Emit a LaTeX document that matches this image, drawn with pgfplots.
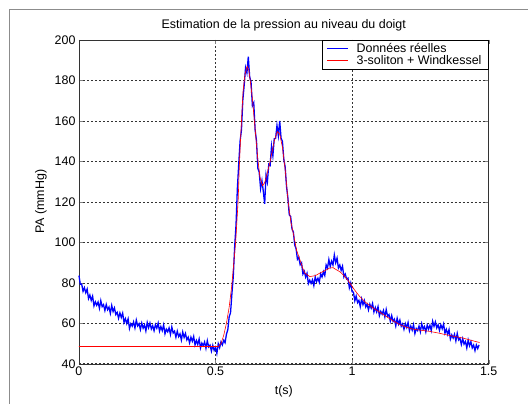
\documentclass[border=0pt]{standalone}
\usepackage{pgfplots}
\pgfplotsset{compat=1.18}
\usepackage{fontspec}
\setmainfont{Liberation Sans}

% measured data (pressure at the finger)
\pgfplotstableread{
t P
0.000 83.6
0.005 79.3
0.010 79.4
0.015 75.8
0.020 77.6
0.025 75.1
0.030 76.9
0.035 72.2
0.040 74.0
0.045 71.3
0.050 73.4
0.055 68.6
0.060 70.6
0.065 68.9
0.070 70.5
0.075 67.4
0.080 71.2
0.085 68.2
0.090 69.2
0.095 66.3
0.100 69.3
0.105 66.7
0.110 68.0
0.115 64.9
0.120 68.8
0.125 65.8
0.130 67.6
0.135 64.3
0.140 65.4
0.145 62.5
0.150 65.1
0.155 62.9
0.160 65.0
0.165 60.4
0.170 62.3
0.175 59.9
0.180 62.2
0.185 57.4
0.190 59.8
0.195 58.6
0.200 60.7
0.205 57.7
0.210 61.6
0.215 58.7
0.220 59.8
0.225 56.9
0.230 60.1
0.235 57.6
0.240 59.2
0.245 56.2
0.250 60.4
0.255 57.8
0.260 60.1
0.265 57.2
0.270 58.8
0.275 56.3
0.280 59.3
0.285 57.6
0.290 60.1
0.295 56.1
0.300 58.4
0.305 56.4
0.310 59.2
0.315 54.8
0.320 57.1
0.325 55.8
0.330 57.7
0.335 54.5
0.340 58.2
0.345 55.2
0.350 56.1
0.355 53.1
0.360 56.1
0.365 53.4
0.370 54.8
0.375 51.7
0.380 55.7
0.385 53.0
0.390 55.0
0.395 51.8
0.400 53.1
0.405 50.3
0.410 53.1
0.415 51.1
0.420 53.5
0.425 49.3
0.430 51.5
0.435 49.5
0.440 52.2
0.445 47.8
0.450 50.2
0.455 48.9
0.460 50.8
0.465 47.6
0.470 51.4
0.475 48.3
0.480 49.2
0.485 46.2
0.490 49.1
0.495 46.6
0.500 48.1
0.505 45.1
0.510 49.9
0.515 47.9
0.520 50.8
0.525 49.3
0.530 51.6
0.535 50.4
0.540 54.6
0.545 56.8
0.550 63.2
0.555 65.2
0.560 74.5
0.565 83.0
0.570 97.6
0.575 108.4
0.580 126.7
0.585 138.7
0.590 150.1
0.595 155.5
0.600 170.3
0.605 177.7
0.610 186.3
0.615 183.7
0.620 191.8
0.625 181.8
0.630 179.3
0.635 167.5
0.640 169.0
0.645 155.6
0.650 150.2
0.655 136.6
0.660 134.6
0.665 126.6
0.670 130.5
0.675 125.2
0.680 119.0
0.685 133.4
0.690 129.9
0.695 138.6
0.700 138.0
0.705 147.6
0.710 142.7
0.715 151.2
0.720 151.4
0.725 157.8
0.730 152.7
0.735 160.0
0.740 151.5
0.745 149.9
0.750 141.1
0.755 137.2
0.760 127.6
0.765 121.9
0.770 113.6
0.775 112.8
0.780 106.6
0.785 105.1
0.790 98.7
0.795 96.8
0.800 91.6
0.805 92.6
0.810 88.9
0.815 89.9
0.820 84.3
0.825 85.7
0.830 82.8
0.835 84.7
0.840 79.6
0.845 81.3
0.850 79.7
0.855 81.5
0.860 78.6
0.865 82.9
0.870 80.6
0.875 82.3
0.880 80.3
0.885 84.4
0.890 82.9
0.895 85.5
0.900 83.6
0.905 88.8
0.910 87.3
0.915 91.5
0.920 88.1
0.925 90.7
0.930 88.8
0.935 93.8
0.940 89.9
0.945 92.2
0.950 87.3
0.955 88.8
0.960 86.2
0.965 88.2
0.970 82.9
0.975 84.3
0.980 81.9
0.985 82.3
0.990 77.5
0.995 79.9
1.000 75.6
1.005 75.4
1.010 71.1
1.015 73.5
1.020 70.2
1.025 71.3
1.030 68.2
1.035 72.0
1.040 69.2
1.045 71.2
1.050 68.1
1.055 69.4
1.060 66.6
1.065 69.4
1.070 67.5
1.075 69.8
1.080 65.6
1.085 67.8
1.090 65.6
1.095 68.2
1.100 63.7
1.105 65.9
1.110 64.5
1.115 66.4
1.120 63.1
1.125 66.8
1.130 63.5
1.135 64.3
1.140 61.0
1.145 63.8
1.150 60.9
1.155 62.0
1.160 58.7
1.165 62.5
1.170 59.6
1.175 61.6
1.180 58.5
1.185 59.7
1.190 57.0
1.195 59.8
1.200 57.9
1.205 60.4
1.210 56.3
1.215 58.6
1.220 56.6
1.225 59.3
1.230 54.9
1.235 57.4
1.240 56.4
1.245 58.6
1.250 55.8
1.255 59.8
1.260 57.1
1.265 58.4
1.270 55.7
1.275 59.1
1.280 57.1
1.285 59.0
1.290 56.4
1.295 61.0
1.300 58.5
1.305 60.7
1.310 57.7
1.315 59.2
1.320 56.5
1.325 59.2
1.330 57.3
1.335 59.6
1.340 55.1
1.345 57.0
1.350 54.5
1.355 56.9
1.360 52.2
1.365 54.3
1.370 52.7
1.375 54.6
1.380 51.3
1.385 55.0
1.390 51.8
1.395 52.6
1.400 49.5
1.405 52.4
1.410 49.7
1.415 51.0
1.420 47.8
1.425 51.7
1.430 48.9
1.435 50.9
1.440 47.8
1.445 49.2
1.450 46.5
1.455 49.3
1.460 47.5
1.465 49.3
}\mesures

% 3-soliton + Windkessel model
\pgfplotstableread{
t P
0.000 48.5
0.510 48.5
0.520 50.0
0.530 54.0
0.540 60.0
0.550 68.0
0.559 78.0
0.567 90.0
0.574 100.5
0.583 121.0
0.587 137.0
0.592 152.0
0.601 175.0
0.608 183.0
0.616 187.0
0.622 185.0
0.628 179.0
0.635 171.0
0.645 156.0
0.655 141.0
0.663 132.0
0.672 128.0
0.680 129.5
0.690 134.5
0.700 140.0
0.715 150.0
0.726 154.7
0.735 153.5
0.745 147.0
0.755 136.0
0.766 120.0
0.776 110.0
0.787 103.0
0.797 96.0
0.809 91.4
0.820 87.0
0.827 84.8
0.845 83.1
0.865 83.5
0.882 84.8
0.900 86.0
0.918 87.3
0.930 87.5
0.943 86.4
0.955 85.5
0.967 84.0
0.980 82.0
0.992 79.9
1.010 76.3
1.028 73.2
1.050 70.3
1.077 67.5
1.100 65.6
1.126 63.3
1.150 61.2
1.175 59.3
1.200 58.0
1.223 57.1
1.250 56.6
1.284 56.0
1.315 55.2
1.345 54.3
1.375 53.5
1.406 52.7
1.435 51.6
1.467 50.5
}\modele

\newcommand\figfont{\fontsize{12.5}{14.5}\selectfont}

\begin{document}
\begin{tikzpicture}
\begin{axis}[
  scale only axis, width=410bp, height=324bp,
  xmin=0, xmax=1.5, ymin=40, ymax=200,
  xtick={0,0.5,1,1.5}, ytick={40,60,...,200},
  tick pos=both, tick align=inside, major tick length=4bp,
  axis line style={black!80},
  grid=major,
  major grid style={black!80, dash pattern=on 2bp off 2bp, line width=0.5bp},
  tick label style={font=\figfont},
  label style={font=\figfont},
  /pgf/number format/assume math mode=true,
  xlabel={t(s)},
  xlabel style={at={(axis description cs:0.5,-0.0864)}, anchor=center},
  ylabel={PA (mmHg)},
  ylabel style={at={(axis description cs:-0.0927,0.5)}, anchor=center},
  clip=false,
  legend cell align=left,
  legend style={at={(1,1)}, anchor=north east, draw=black, fill=white,
    inner xsep=5bp, inner ysep=1bp, row sep=-2.5bp,
    font=\figfont,
    /tikz/every odd column/.append style={column sep=6bp}},
  legend image code/.code={\draw[#1, line width=0.8bp] (0bp,0bp) -- (21bp,0bp);},
]
\addplot[blue, line width=1.3bp] table[x=t, y=P] {\mesures};
\addplot[red, line width=0.6bp] table[x=t, y=P] {\modele};
\legend{Données réelles, 3-soliton + Windkessel}
\node[font=\figfont, anchor=center] at (rel axis cs:0.5,1.046) {Estimation de la pression au niveau du doigt};
% figure frame and page extent
\draw[black!45, line width=0.8bp] (rel axis cs:-0.1707,-0.1235) -- (rel axis cs:-0.1707,1.0957) -- (rel axis cs:1.0951,1.0957);
\path (rel axis cs:-0.1927,-0.1235) rectangle (rel axis cs:1.0951,1.1235);
\end{axis}
\end{tikzpicture}
\end{document}
